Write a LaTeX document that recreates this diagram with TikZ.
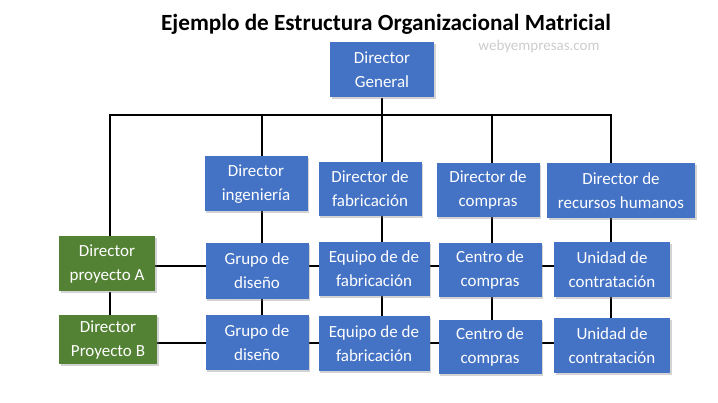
\documentclass[tikz,border=0pt]{standalone}
\usepackage{fontspec}
\setmainfont{Carlito}
\usetikzlibrary{shadows,backgrounds}
\definecolor{cajaazul}{RGB}{68,114,196}
\definecolor{cajaverde}{RGB}{84,130,53}
\begin{document}
\begin{tikzpicture}[x=1pt, y=-1pt,
    caja/.style={draw=none, text=white, align=center, inner sep=0pt,
      font=\fontsize{17}{24}\selectfont, minimum height=55pt,
      drop shadow={opacity=0.35, shadow xshift=1.5pt, shadow yshift=-2pt}},
    azul/.style={caja, fill=cajaazul},
    verde/.style={caja, fill=cajaverde},
    linea/.style={line width=1.6pt, black}]
  \useasboundingbox (0,0) rectangle (718,403);
  % titulo
  \node[font=\fontsize{23.2}{27}\bfseries\selectfont] (titulo) at (386,24) {Ejemplo de Estructura Organizacional Matricial};
  \node[font=\fontsize{15}{17}\selectfont, text=black!20] (web) at (539,47) {webyempresas.com};
  % director general
  \node[azul, minimum width=104pt] (dg) at (382,70) {Director\\General};
  % directores funcionales
  \node[azul, minimum width=103pt] (di) at (256,184) {Director\\ingeniería};
  \node[azul, minimum width=103pt, minimum height=54pt] (df) at (370,189) {Director de\\fabricación};
  \node[azul, minimum width=103pt, minimum height=54pt] (dc) at (488,190) {Director de\\compras};
  \node[azul, minimum width=148pt] (drh) at (621,191) {Director de\\recursos humanos};
  % directores de proyecto
  \node[verde, minimum width=96pt] (dpa) at (107,264) {Director\\proyecto A};
  \node[verde, minimum width=98pt, minimum height=49pt] (dpb) at (108,340) {Director\\Proyecto B};
  % proyecto A
  \node[azul, minimum width=103pt, minimum height=56pt] (gd1) at (257,271) {Grupo de\\diseño};
  \node[azul, minimum width=111pt, minimum height=54pt] (ef1) at (374,269) {Equipo de de\\fabricación};
  \node[azul, minimum width=103pt, minimum height=54pt] (cc1) at (490,270) {Centro de\\compras};
  \node[azul, minimum width=116pt] (uc1) at (612,270) {Unidad de\\contratación};
  % proyecto B
  \node[azul, minimum width=103pt] (gd2) at (257,343) {Grupo de\\diseño};
  \node[azul, minimum width=111pt] (ef2) at (374,344) {Equipo de de\\fabricación};
  \node[azul, minimum width=103pt, minimum height=54pt] (cc2) at (490,347) {Centro de\\compras};
  \node[azul, minimum width=116pt] (uc2) at (612,346) {Unidad de\\contratación};
  % lineas de mando
  \coordinate (barra) at (382,115);
  \coordinate (filaA) at (0,266);
  \coordinate (filaB) at (0,343);
  \begin{pgfonlayer}{background}
    \draw[linea] (dg) -- (barra);
    \draw[linea] (dpa.north -| 110,0) -- (110,0 |- barra) -- (611,0 |- barra) -- (611,0 |- uc2);
    \draw[linea] (262,0 |- barra) -- (262,0 |- gd2);
    \draw[linea] (382,0 |- barra) -- (382,0 |- ef2);
    \draw[linea] (492,0 |- barra) -- (492,0 |- cc2);
    \draw[linea] (dpa.south -| 110,0) -- (dpb.north -| 110,0);
    \draw[linea] (dpa.east |- filaA) -- (uc1.west |- filaA);
    \draw[linea] (dpb.east |- filaB) -- (uc2.west |- filaB);
  \end{pgfonlayer}
\end{tikzpicture}
\end{document}
